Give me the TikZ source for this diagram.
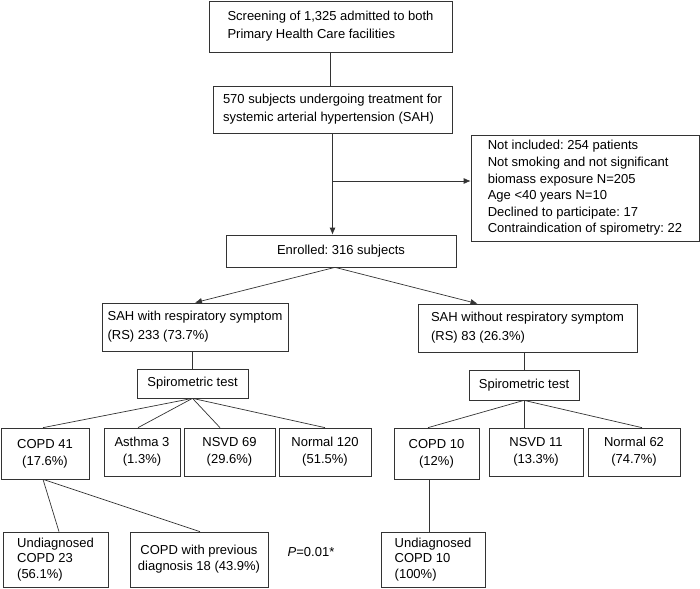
\documentclass[tikz,border=0pt]{standalone}
\usepackage{fontspec}
\setmainfont{Liberation Sans}
\frenchspacing
\usetikzlibrary{arrows.meta,calc}
\begin{document}
\begin{tikzpicture}[x=1pt,y=-1pt,
  box/.style={draw=black!80, line width=0.7pt, inner sep=0pt, text=black, font=\fontsize{13}{17}\selectfont},
  lbox/.style={box, align=left},
  cbox/.style={box, align=center},
  conn/.style={draw=black!80, line width=0.7pt},
  arr/.style={conn, -{Latex[length=7pt,width=6pt]}}]
\useasboundingbox (0,0) rectangle (700,588);

% top chain
\node[lbox, minimum width=243pt, minimum height=51pt, font=\fontsize{13}{18}\selectfont] (scr) at (330.5,26.5)
  {Screening of 1,325 admitted to both\\Primary Health Care facilities};
\node[lbox, minimum width=239pt, minimum height=47pt, font=\fontsize{13}{18}\selectfont] (sah570) at (332.5,109.5)
  {570 subjects undergoing treatment for\\systemic arterial hypertension (SAH)};
\node[lbox, minimum width=228pt, minimum height=106pt, font=\fontsize{13}{16.6}\selectfont] (excl) at (585,188)
  {Not included: 254 patients\\Not smoking and not significant\\biomass exposure N=205\\Age <40 years N=10\\Declined to participate: 17\\Contraindication of spirometry: 22};
\node[cbox, minimum width=230pt, minimum height=32pt] (enr) at (341,251) {Enrolled: 316 subjects};

% second level
\node[lbox, minimum width=186pt, minimum height=48pt, font=\fontsize{13}{19}\selectfont] (sahrs) at (195,327)
  {SAH with respiratory symptom\\(RS) 233 (73.7\%)};
\node[lbox, minimum width=219pt, minimum height=48pt, font=\fontsize{13}{19}\selectfont] (sahno) at (527.5,328)
  {SAH without respiratory symptom\\(RS) 83 (26.3\%)};

\node[cbox, minimum width=111pt, minimum height=29pt] (sp1) at (192.5,383.5) {Spirometric test};
\node[cbox, minimum width=110pt, minimum height=30pt] (sp2) at (524,385) {Spirometric test};

% results row
\node[cbox, minimum width=88pt, minimum height=51pt] (copd41) at (45,453.5) {COPD 41\\(17.6\%)};
\node[cbox, minimum width=76pt, minimum height=48pt] (asthma) at (142,452) {Asthma 3\\(1.3\%)};
\node[cbox, minimum width=91pt, minimum height=48pt] (nsvd69) at (229.5,452) {NSVD 69\\(29.6\%)};
\node[cbox, minimum width=92pt, minimum height=48pt] (norm120) at (325,452) {Normal 120\\(51.5\%)};
\node[cbox, minimum width=85pt, minimum height=51pt] (copd10) at (436.5,453.5) {COPD 10\\(12\%)};
\node[cbox, minimum width=94pt, minimum height=48pt] (nsvd11) at (536,452) {NSVD 11\\(13.3\%)};
\node[cbox, minimum width=92pt, minimum height=48pt] (norm62) at (634,452) {Normal 62\\(74.7\%)};

% bottom row
\node[lbox, minimum width=105pt, minimum height=55pt, font=\fontsize{13}{15.5}\selectfont] (und23) at (55.5,559.5)
  {Undiagnosed\\COPD 23\\(56.1\%)};
\node[cbox, minimum width=138pt, minimum height=55pt, font=\fontsize{13}{16}\selectfont] (prev) at (199,559.5)
  {COPD with previous\\diagnosis 18 (43.9\%)};
\node[font=\fontsize{13}{17}\selectfont, inner sep=0pt] (pv) at (311,552) {\textit{P}=0.01*};
\node[lbox, minimum width=104pt, minimum height=55pt, font=\fontsize{13}{15.5}\selectfont] (und10) at (433,559.5)
  {Undiagnosed\\COPD 10\\(100\%)};

% connectors
\draw[conn] (scr.south) -- (scr.south |- sah570.north);
\draw[arr] (sah570.south) -- (sah570.south |- enr.north);
\path (0,181) coordinate (ylev);
\coordinate (br) at (sah570.south |- ylev);
\draw[arr] (br) -- (br -| excl.west);

\coordinate (es) at ($(enr.south)+(-6,0)$);
\draw[arr] (es) -- (sahrs.north);
\draw[arr] (es) -- ($(sahno.north)+(-50,0)$);

\draw[conn] (sp1.north |- sahrs.south) -- (sp1.north);
\draw[conn] (sp2.north |- sahno.south) -- (sp2.north);

\draw[conn] (sp1.south) -- ($(copd41.north)+(-2,0)$);
\draw[conn] (sp1.south) -- ($(asthma.north)+(-4,0)$);
\draw[conn] (sp1.south) -- ($(nsvd69.north)+(-9.5,0)$);
\draw[conn] (sp1.south) -- (norm120.north);

\draw[conn] (sp2.south) -- ($(copd10.north)+(-8.5,0)$);
\draw[conn] (sp2.south) -- (sp2.south |- nsvd11.north);
\draw[conn] (sp2.south) -- ($(norm62.north)+(8,0)$);

\coordinate (cs) at ($(copd41.south)+(-2,0)$);
\draw[conn] (cs) -- ($(und23.north)+(3.5,0)$);
\draw[conn] (cs) -- ($(prev.north)+(1,0)$);

\coordinate (c10) at ($(copd10.south)+(-7.5,0)$);
\draw[conn] (c10) -- (c10 |- und10.north);
\end{tikzpicture}
\end{document}
